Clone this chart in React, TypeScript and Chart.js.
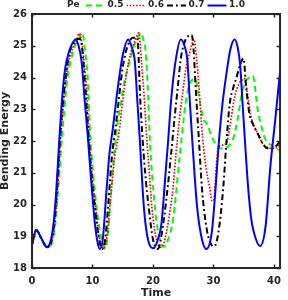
import React, { useEffect, useRef } from "react";
import { Chart, registerables } from "chart.js";

Chart.register(...registerables);

const legendTitle = "Pe";
const seriesLabels = ["0.5", "0.6", "0.7", "1.0"];
const xTitle = "Time";
const yTitle = "Bending Energy";
const xTicks = [0, 10, 20, 30, 40];
const yTicks = [18, 19, 20, 21, 22, 23, 24, 25, 26];

// Pe = 0.5 (green dashed)
const tPe05 = [0, 0.7, 1.5, 2.7, 3.3, 3.8, 4.3, 4.8, 5.3, 5.8, 6.5, 7.1, 7.7, 8.3, 8.8, 9.3, 9.6, 10.1, 10.65, 11.2, 11.7, 12.1, 12.5, 13.0, 13.6, 14.1, 14.7, 15.2, 15.75, 16.3, 16.85, 17.4, 17.95, 18.4, 18.8, 19.2, 19.5, 20.3, 21.0, 21.8, 22.5, 23.3, 24.35, 25.4, 26.2, 27.0, 27.5, 27.9, 28.4, 28.9, 29.7, 30.5, 31.1, 31.9, 32.5, 33.3, 34.0, 34.6, 35.2, 35.9, 36.5, 37.3, 38.0, 38.6, 39.7, 41.0];
const ePe05 = [18.73, 19.2, 18.95, 18.65, 18.8, 19.3, 20.4, 21.7, 22.9, 23.9, 24.6, 25.0, 25.2, 25.42, 24.8, 23.7, 22.3, 21.0, 19.93, 19.2, 18.78, 18.6, 18.98, 20.2, 21.6, 22.5, 23.2, 23.8, 24.24, 24.6, 24.97, 25.2, 25.42, 25.2, 24.8, 23.4, 22.0, 19.93, 19.0, 18.67, 18.9, 19.5, 21.4, 23.2, 23.87, 23.95, 23.5, 23.08, 22.66, 22.56, 22.14, 21.87, 21.77, 21.77, 21.85, 22.1, 22.7, 23.4, 23.85, 24.0, 24.05, 23.0, 22.4, 22.05, 21.85, 21.7];

// Pe = 0.6 (red dotted)
const tPe06 = [0, 0.7, 1.5, 2.6, 3.2, 3.7, 4.2, 4.7, 5.3, 5.8, 6.3, 6.9, 7.4, 7.8, 8.3, 8.7, 9.0, 9.4, 9.9, 10.5, 11.1, 11.9, 12.4, 12.9, 13.6, 14.4, 14.95, 15.6, 16.3, 17.0, 17.65, 18.1, 18.6, 19.0, 19.4, 19.8, 20.6, 21.4, 22.2, 22.8, 23.3, 23.8, 24.35, 24.9, 25.4, 26.1, 26.8, 27.2, 27.6, 28.2, 28.9, 29.4, 29.75, 30.05, 30.5, 30.8, 31.5, 32.15, 32.7, 33.5, 34.2, 34.7, 35.1, 35.6, 36.2, 37.3, 38.1, 38.9, 39.7, 40.5, 41.0];
const ePe06 = [18.73, 19.2, 18.95, 18.65, 18.8, 19.3, 20.4, 22.0, 23.4, 24.2, 24.7, 25.0, 25.2, 25.39, 25.0, 24.3, 23.7, 22.24, 21.0, 19.93, 19.0, 18.62, 19.0, 20.0, 21.4, 22.3, 23.2, 24.1, 24.76, 25.15, 25.41, 24.5, 23.2, 22.0, 21.0, 19.93, 18.88, 18.65, 19.1, 19.8, 20.5, 21.6, 22.66, 23.5, 24.24, 24.8, 25.2, 24.6, 23.7, 22.1, 21.0, 20.5, 20.12, 20.12, 21.3, 21.8, 21.87, 21.93, 22.45, 23.4, 23.8, 23.92, 23.97, 23.5, 22.77, 22.24, 21.93, 21.8, 21.77, 21.8, 21.9];

// Pe = 0.7 (black dash-dot)
const tPe07 = [0, 0.7, 1.5, 2.5, 3.1, 3.6, 4.1, 4.6, 5.2, 5.7, 6.2, 6.8, 7.3, 7.9, 8.3, 8.8, 9.3, 9.8, 10.4, 11.0, 11.6, 12.1, 12.6, 13.2, 13.8, 14.4, 14.9, 15.5, 16.0, 16.6, 17.4, 17.9, 18.3, 18.8, 19.3, 20.0, 20.8, 21.7, 22.4, 23.0, 23.5, 24.1, 24.6, 25.2, 25.8, 26.4, 26.7, 27.05, 27.6, 28.1, 28.9, 29.6, 30.1, 30.8, 31.6, 32.15, 32.7, 33.3, 33.8, 34.4, 34.95, 35.4, 35.9, 36.45, 37.3, 38.1, 38.9, 39.7, 40.5, 41.0];
const ePe07 = [18.73, 19.2, 18.95, 18.65, 18.8, 19.3, 20.4, 22.0, 23.4, 24.2, 24.8, 25.05, 25.2, 25.22, 24.9, 23.7, 22.3, 21.0, 19.9, 19.0, 18.6, 18.9, 20.0, 21.5, 22.4, 23.4, 24.2, 24.8, 25.08, 25.25, 25.25, 23.3, 22.0, 20.8, 19.9, 18.9, 18.6, 19.4, 20.5, 21.6, 22.6, 23.7, 24.6, 25.1, 25.3, 25.34, 24.9, 23.7, 22.0, 20.5, 19.2, 18.75, 18.68, 19.1, 20.5, 22.0, 23.2, 23.7, 24.0, 24.4, 24.6, 23.7, 22.9, 22.56, 22.24, 21.93, 21.77, 21.77, 21.87, 22.0];

// Pe = 1.0 (blue solid)
const tPe10 = [0, 0.7, 1.5, 2.4, 3.0, 3.5, 4.0, 4.5, 5.0, 5.5, 6.1, 6.6, 7.2, 7.7, 8.2, 8.7, 9.2, 9.8, 10.4, 10.8, 11.2, 11.7, 12.3, 12.8, 13.3, 14.2, 15.0, 15.9, 16.5, 17.0, 17.4, 17.8, 18.5, 19.3, 20.1, 20.8, 21.4, 22.0, 22.5, 23.0, 23.8, 24.6, 25.2, 25.7, 26.1, 26.5, 27.3, 28.1, 28.8, 29.7, 30.3, 30.9, 31.5, 32.2, 32.8, 33.5, 34.0, 34.4, 34.8, 35.2, 35.7, 36.2, 36.7, 37.7, 38.6, 39.4, 40.2, 41.0];
const ePe10 = [18.73, 19.2, 18.95, 18.66, 18.8, 19.3, 20.4, 22.0, 23.4, 24.3, 24.8, 25.05, 25.2, 25.0, 24.5, 23.3, 22.2, 20.7, 19.4, 18.85, 18.6, 18.9, 20.4, 21.6, 22.3, 23.7, 24.7, 25.2, 24.95, 24.5, 23.3, 22.1, 19.9, 18.8, 18.62, 18.9, 19.4, 20.8, 22.0, 23.3, 24.6, 25.2, 25.0, 24.5, 23.2, 22.0, 19.9, 18.9, 18.6, 19.1, 20.4, 22.0, 23.2, 24.2, 24.9, 25.2, 24.95, 24.4, 23.2, 22.0, 20.6, 19.6, 19.1, 18.69, 19.3, 21.2, 22.66, 24.18];

const seriesTimes = [tPe05, tPe06, tPe07, tPe10];
const seriesValues = [ePe05, ePe06, ePe07, ePe10];
const seriesColors = ["#00ff00", "#ff0000", "#000000", "#0000ff"];
const seriesDash = [[6, 4], [1.6, 1.6], [6, 3, 1.8, 3], []];
const seriesWidths = [2, 1.7, 2, 2];

const AXIS = "#262626";
const FONT = "'DejaVu Sans', sans-serif";

const framePlugin = {
  id: "frameAndLegend",
  afterDatasetsDraw(chart: any) {
    const { ctx, chartArea: a, scales } = chart;
    ctx.save();
    ctx.strokeStyle = AXIS;
    ctx.lineWidth = 1.5;
    const tl = 3.5;
    xTicks.forEach((v) => {
      const px = Math.round(scales.x.getPixelForValue(v)) + 0.5;
      ctx.beginPath();
      ctx.moveTo(px, a.bottom);
      ctx.lineTo(px, a.bottom - tl);
      ctx.moveTo(px, a.top);
      ctx.lineTo(px, a.top + tl);
      ctx.stroke();
    });
    yTicks.forEach((v) => {
      const py = Math.round(scales.y.getPixelForValue(v)) + 0.5;
      ctx.beginPath();
      ctx.moveTo(a.left, py);
      ctx.lineTo(a.left + tl, py);
      ctx.moveTo(a.right, py);
      ctx.lineTo(a.right - tl, py);
      ctx.stroke();
    });
    ctx.lineWidth = 2;
    ctx.strokeRect(a.left, a.top, a.right - a.left, a.bottom - a.top);
    ctx.restore();
  },
  afterDraw(chart: any) {
    const { ctx } = chart;
    const y = 5;
    ctx.save();
    ctx.font = `bold 9px ${FONT}`;
    ctx.fillStyle = AXIS;
    ctx.textBaseline = "middle";
    ctx.textAlign = "left";
    ctx.fillText(legendTitle, 67, y);
    const x0 = 86;
    const step = 40.5;
    const lineLen = 19;
    chart.data.datasets.forEach((ds: any, i: number) => {
      const x = x0 + i * step;
      ctx.save();
      ctx.strokeStyle = ds.borderColor;
      ctx.lineWidth = ds.borderWidth;
      ctx.setLineDash(ds.borderDash || []);
      ctx.beginPath();
      ctx.moveTo(x, y + 0.5);
      ctx.lineTo(x + lineLen, y + 0.5);
      ctx.stroke();
      ctx.restore();
      ctx.fillText(ds.label, x + lineLen + 2.5, y);
    });
    ctx.restore();
  },
};

export default function App() {
  const ref = useRef<HTMLCanvasElement | null>(null);
  useEffect(() => {
    if (!ref.current) return;
    const datasets = seriesLabels.map((label, i) => ({
      label,
      data: seriesTimes[i].map((t, j) => ({ x: t, y: seriesValues[i][j] })),
      borderColor: seriesColors[i],
      backgroundColor: seriesColors[i],
      borderWidth: seriesWidths[i],
      borderDash: seriesDash[i],
      pointRadius: 0,
      fill: false,
      cubicInterpolationMode: "monotone" as const,
      order: seriesLabels.length - 1 - i,
    }));
    const chart = new Chart(ref.current, {
      type: "line",
      data: { datasets },
      options: {
        animation: false,
        responsive: false,
        maintainAspectRatio: false,
        layout: { padding: { top: 14, right: 2, left: 0, bottom: 0 } },
        plugins: { legend: { display: false }, tooltip: { enabled: false } },
        scales: {
          x: {
            type: "linear",
            min: 0,
            max: 41,
            afterBuildTicks: (s: any) => {
              s.ticks = xTicks.map((v) => ({ value: v }));
            },
            afterFit: (s: any) => {
              s.height = 32;
            },
            grid: { display: false, drawTicks: false },
            border: { display: false },
            ticks: {
              padding: 7,
              color: AXIS,
              font: { family: FONT, size: 10, weight: "bold" },
              maxRotation: 0,
            },
            title: {
              display: true,
              text: xTitle,
              color: AXIS,
              font: { family: FONT, size: 11, weight: "bold", lineHeight: 1 },
              padding: { top: 0, bottom: 1 },
            },
          },
          y: {
            type: "linear",
            min: 18,
            max: 26,
            afterBuildTicks: (s: any) => {
              s.ticks = yTicks.map((v) => ({ value: v }));
            },
            afterFit: (s: any) => {
              s.width = 32;
            },
            grid: { display: false, drawTicks: false },
            border: { display: false },
            ticks: {
              padding: 5,
              color: AXIS,
              font: { family: FONT, size: 10, weight: "bold" },
            },
            title: {
              display: true,
              text: yTitle,
              color: AXIS,
              font: { family: FONT, size: 11, weight: "bold", lineHeight: 1 },
              padding: { top: 0, bottom: 0 },
            },
          },
        },
      },
      plugins: [framePlugin],
    });
    return () => chart.destroy();
  }, []);
  return (
    <div style={{ position: "absolute", left: 0, top: 0, width: 288, height: 300 }}>
      <canvas ref={ref} width={288} height={300} style={{ width: 288, height: 300 }} />
    </div>
  );
}
